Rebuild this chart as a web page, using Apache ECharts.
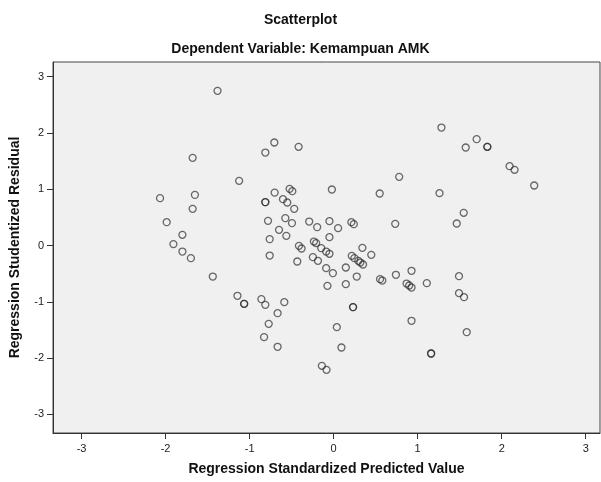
<!DOCTYPE html>
<html>
<head>
<meta charset="utf-8">
<script src="https://cdn.jsdelivr.net/npm/echarts@6/dist/echarts.min.js"></script>
<style>
    html, body { margin: 0; padding: 0; background: #fff; }
    #chart { width: 601px; height: 482px; }
</style>
</head>
<body>
<div id="chart"></div>
<script>
// predicted value (x) / studentized residual (y)
var predicted = [
    -2.066, -1.987, -1.907, -1.80, -1.80, -1.699, -1.678, -1.651, -1.678, -1.438,
    -1.382, -1.125, -1.145, -1.065, -1.065, -0.86, -0.813, -0.587, -0.667, -0.773,
    -0.828, -0.667, -0.706, -0.813, -0.417, -0.702, -0.524, -0.492, -0.021, -0.813,
    -0.813, -0.603, -0.552, -0.469, -0.781, -0.575, -0.496, -0.291, -0.196, -0.05,
    0.053, 0.211, 0.24, -0.65, -0.761, -0.563, -0.05, 0.342, 0.448, -0.761,
    -0.413, -0.382, -0.235, -0.208, -0.148, -0.089, -0.05, -0.247, -0.187, -0.433,
    -0.089, -0.009, -0.074, 0.145, 0.145, 0.216, 0.247, 0.294, 0.318, 0.35,
    0.275, 0.552, 0.579, 0.741, 0.231, 0.231, 0.038, 0.093, -0.14, -0.085,
    1.283, 1.702, 1.572, 1.829, 1.829, 2.094, 2.153, 2.387, 0.78, 0.548,
    1.26, 1.548, 1.465, 0.733, 0.927, 0.868, 0.899, 0.927, 1.109, 1.492,
    1.492, 1.552, 0.927, 1.584, 1.16, 1.16
];
var residual = [
    0.842, 0.415, 0.025, 0.19, -0.107, -0.224, 1.558, 0.90, 0.652, -0.551,
    2.748, 1.149, -0.893, -1.036, -1.036, -0.952, -1.053, -1.006, -1.201, -1.391,
    -1.627, -1.799, 1.83, 1.652, 1.753, 0.94, 1.007, 0.966, 0.995, 0.771,
    0.771, 0.824, 0.764, 0.652, 0.439, 0.487, 0.398, 0.426, 0.327, 0.433,
    0.309, 0.415, 0.38, 0.279, 0.114, 0.172, 0.149, -0.041, -0.165, -0.178,
    -0.005, -0.053, 0.071, 0.043, -0.046, -0.107, -0.147, -0.206, -0.272, -0.284,
    -0.402, -0.49, -0.716, -0.39, -0.686, -0.183, -0.224, -0.272, -0.302, -0.337,
    -0.551, -0.597, -0.622, -0.52, -1.094, -1.094, -1.45, -1.811, -2.137, -2.208,
    2.096, 1.89, 1.741, 1.753, 1.753, 1.41, 1.345, 1.066, 1.22, 0.924,
    0.93, 0.581, 0.391, 0.385, -0.449, -0.675, -0.71, -0.746, -0.668, -0.544,
    -0.846, -0.917, -1.337, -1.539, -1.918, -1.918
];
var xTicks = [-3, -2, -1, 0, 1, 2, 3];
var yTicks = [-3, -2, -1, 0, 1, 2, 3];

var points = [];
for (var i = 0; i < predicted.length; i++) {
    points.push([predicted[i], residual[i]]);
}

var chart = echarts.init(document.getElementById('chart'));

var fontFamily = '"Liberation Sans", Arial, sans-serif';

var option = {
    animation: false,
    backgroundColor: '#ffffff',
    title: [
        {
            text: 'Scatterplot',
            left: 'center',
            top: 8,
            textStyle: { fontFamily: fontFamily, fontSize: 14, fontWeight: 'bold', color: '#111' }
        },
        {
            text: 'Dependent Variable: Kemampuan AMK',
            left: 'center',
            top: 37,
            textStyle: { fontFamily: fontFamily, fontSize: 14, fontWeight: 'bold', color: '#111' }
        }
    ],
    grid: {
        show: true,
        left: 51,
        right: 1,
        top: 62,
        bottom: 49,
        backgroundColor: '#f0f0f0',
        borderColor: '#444',
        borderWidth: 1
    },
    xAxis: {
        type: 'value',
        min: -3.34,
        max: 3.17,
        name: 'Regression Standardized Predicted Value',
        nameLocation: 'middle',
        nameGap: 29,
        nameTextStyle: { fontFamily: fontFamily, fontSize: 14, fontWeight: 'bold', color: '#111' },
        axisLine: { show: true, onZero: false, lineStyle: { color: '#333', width: 1 } },
        axisTick: {
            show: true,
            length: 6,
            customValues: xTicks,
            lineStyle: { color: '#333' }
        },
        axisLabel: {
            customValues: xTicks,
            margin: 10,
            fontFamily: fontFamily,
            fontSize: 11,
            color: '#222'
        },
        splitLine: { show: false }
    },
    yAxis: {
        type: 'value',
        min: -3.33,
        max: 3.26,
        name: 'Regression Studentized Residual',
        nameLocation: 'middle',
        nameGap: 31,
        nameTextStyle: { fontFamily: fontFamily, fontSize: 14, fontWeight: 'bold', color: '#111' },
        axisLine: { show: true, onZero: false, lineStyle: { color: '#333', width: 1 } },
        axisTick: {
            show: true,
            length: 6,
            customValues: yTicks,
            lineStyle: { color: '#333' }
        },
        axisLabel: {
            customValues: yTicks,
            margin: 9,
            fontFamily: fontFamily,
            fontSize: 11,
            color: '#222'
        },
        splitLine: { show: false }
    },
    series: [
        {
            type: 'scatter',
            symbol: 'circle',
            symbolSize: 7,
            itemStyle: {
                color: 'rgba(0,0,0,0)',
                borderColor: 'rgba(40,40,40,0.85)',
                borderWidth: 1.3
            },
            data: points
        }
    ]
};

chart.setOption(option);
</script>
</body>
</html>
